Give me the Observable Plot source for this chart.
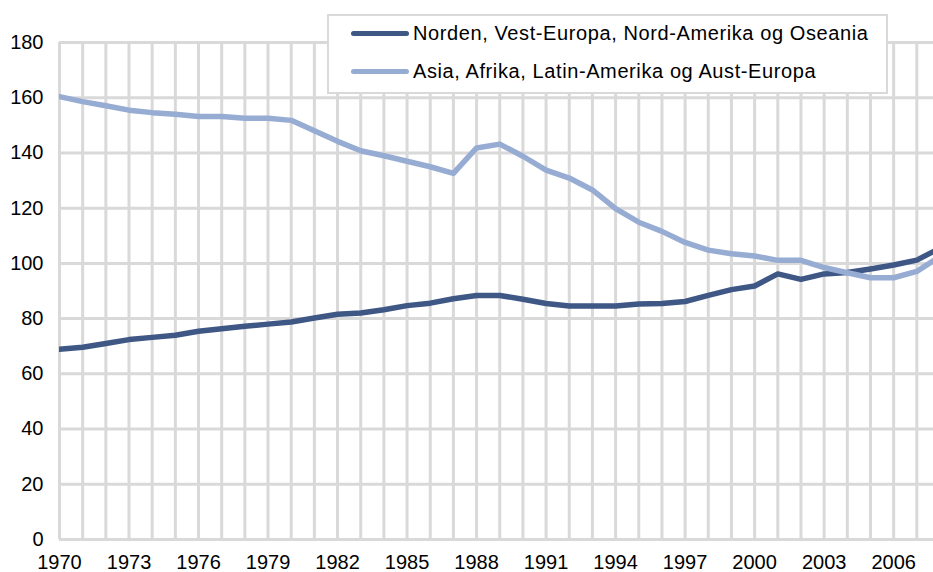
<!DOCTYPE html>
<html>
<head>
<meta charset="utf-8">
<script src="https://cdn.jsdelivr.net/npm/d3@7"></script>
<script src="https://cdn.jsdelivr.net/npm/@observablehq/plot@0.6"></script>
<style>
  html, body { margin: 0; padding: 0; background: #fff; }
  #wrap { position: relative; width: 933px; height: 572px; overflow: hidden; font-family: "Liberation Sans", Arial, sans-serif; }
  #legend { position: absolute; left: 327px; top: 14px; width: 557px; height: 76px; border: 2px solid #d9d9d9; background: #fff; }
  .sw { position: absolute; left: 22px; width: 58px; height: 5px; border-radius: 3px; }
  .lbl { position: absolute; left: 84px; white-space: nowrap; font-size: 20px; letter-spacing: 0.6px; color: #000; line-height: 24px; }
</style>
</head>
<body>
<div id="wrap"></div>
<script>
const years = d3.range(1970, 2009);
const seriesNames = ["Norden, Vest-Europa, Nord-Amerika og Oseania", "Asia, Afrika, Latin-Amerika og Aust-Europa"];
const seriesColors = ["#3e5785", "#97acd3"];
const north = [68.9, 69.6, 71.0, 72.4, 73.2, 74.0, 75.4, 76.3, 77.2, 78.0,
               78.8, 80.2, 81.6, 82.0, 83.2, 84.7, 85.6, 87.2, 88.4, 88.4,
               87.0, 85.5, 84.6, 84.6, 84.6, 85.3, 85.5, 86.2, 88.4, 90.5,
               91.8, 96.2, 94.2, 96.2, 96.7, 98.0, 99.4, 101.2, 105.5];
const south = [160.4, 158.6, 157.1, 155.5, 154.6, 154.0, 153.2, 153.2, 152.6, 152.6,
               151.8, 148.0, 144.2, 140.8, 139.0, 137.0, 135.0, 132.6, 141.8, 143.2,
               138.8, 133.8, 130.9, 126.6, 119.8, 114.9, 111.6, 107.6, 104.8, 103.5,
               102.7, 101.1, 101.1, 98.5, 96.6, 94.8, 94.8, 97.1, 102.5];
const xTickLabels = d3.range(1970, 2007, 3);
const yTicks = d3.range(0, 181, 20);
const gridYears = d3.range(1970, 2008);

const data = [
  ...years.map((y, i) => ({year: y, value: north[i], series: seriesNames[0]})),
  ...years.map((y, i) => ({year: y, value: south[i], series: seriesNames[1]}))
];

const chart = Plot.plot({
  width: 933,
  height: 572,
  marginLeft: 59,
  marginRight: 0,
  marginTop: 42,
  marginBottom: 33,
  style: {fontFamily: '"Liberation Sans", Arial, sans-serif', fontSize: "20px", color: "#000", background: "#fff"},
  x: {domain: [1970, 2007.72], label: null},
  y: {domain: [0, 180], label: null},
  marks: [
    Plot.gridX(gridYears, {stroke: "#d9d9d9", strokeOpacity: 1, strokeWidth: 3}),
    Plot.gridY(yTicks, {stroke: "#d9d9d9", strokeOpacity: 1, strokeWidth: 3}),
    Plot.axisX(xTickLabels, {tickSize: 0, tickPadding: 15, tickFormat: d => String(d), fontSize: 20, fill: "#000"}),
    Plot.axisY(yTicks, {tickSize: 0, tickPadding: 16, fontSize: 20, fill: "#000"}),
    Plot.lineY(data.filter(d => d.series === seriesNames[0]), {x: "year", y: "value", stroke: seriesColors[0], strokeWidth: 5.5, clip: true}),
    Plot.lineY(data.filter(d => d.series === seriesNames[1]), {x: "year", y: "value", stroke: seriesColors[1], strokeWidth: 5.5, clip: true})
  ]
});

const wrap = document.getElementById("wrap");
wrap.appendChild(chart);

const legend = document.createElement("div");
legend.id = "legend";
seriesNames.forEach((name, i) => {
  const top = i === 0 ? 5 : 43;
  const sw = document.createElement("div");
  sw.className = "sw";
  sw.style.top = (top + 10) + "px";
  sw.style.background = seriesColors[i];
  const lbl = document.createElement("div");
  lbl.className = "lbl";
  lbl.style.top = top + "px";
  lbl.textContent = name;
  legend.appendChild(sw);
  legend.appendChild(lbl);
});
wrap.appendChild(legend);
</script>
</body>
</html>
